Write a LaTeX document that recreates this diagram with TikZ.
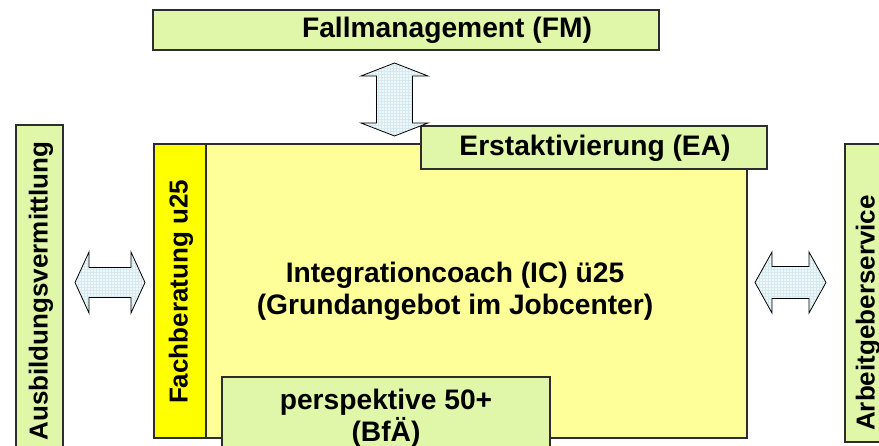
\documentclass[tikz,border=0pt]{standalone}
\usepackage{fontspec}
\setmainfont{Liberation Sans}
\usepackage{xcolor}
\usetikzlibrary{patterns}

\definecolor{boxgreen}{RGB}{224,246,168}
\definecolor{icyellow}{RGB}{255,255,153}
\definecolor{fbyellow}{RGB}{255,255,0}
\definecolor{arrowfill}{RGB}{240,247,249}
\definecolor{arrowgrid}{RGB}{212,233,240}
\definecolor{boxline}{RGB}{45,45,45}

\begin{document}
\begin{tikzpicture}[x=1pt,y=-1pt,
  box/.style={draw=boxline,line width=1.1pt,inner sep=0pt},
  greenbox/.style={box,fill=boxgreen},
  boxtext/.style={font=\bfseries\fontsize{28.2}{32}\selectfont,align=center,inner sep=0pt},
  sidetext/.style={font=\bfseries\fontsize{26}{30}\selectfont,rotate=90,inner sep=0pt},
  blockarrow/.style={draw=black,line width=0.8pt,line join=miter,preaction={fill=arrowfill},
    pattern=grid,pattern color=arrowgrid}]
\useasboundingbox (0,0) rectangle (879,446);
\clip (0,0) rectangle (879,446);

%main box
\node[box,fill=icyellow,minimum width=542pt,minimum height=294pt] (ic) at (476,291) {};
\node[boxtext] (ic-text) at (455,291) {Integrationcoach (IC) ü25\\(Grundangebot im Jobcenter)};
\node[box,fill=fbyellow,minimum width=52pt,minimum height=294pt] (fb) at (180,291) {};
\node[sidetext] (fb-text) at (181,292) {Fachberatung u25};

%green boxes
\node[greenbox,minimum width=346pt,minimum height=43pt] (ea) at (594,147.5) {};
\node[boxtext] (ea-text) at (595,148) {Erstaktivierung (EA)};
\node[greenbox,minimum width=328pt,minimum height=103pt] (p50) at (386,428.5) {};
\node[boxtext] (p50-text) at (386,418) {perspektive 50+\\(BfÄ)};
\node[greenbox,minimum width=506pt,minimum height=40pt] (fm) at (406,30) {};
\node[boxtext] (fm-text) at (447,30) {Fallmanagement (FM)};

%side boxes
\node[greenbox,minimum width=47pt,minimum height=332pt] (av) at (39.5,291) {};
\node[sidetext] (av-text) at (41,291) {Ausbildungsvermittlung};
\node[greenbox,minimum width=48pt,minimum height=298pt] (ag) at (869,293) {};
\node[sidetext] (ag-text) at (868,313) {Arbeitgeberservice};

%block arrows
\coordinate (av-fb) at (75,282.5);
\coordinate (ic-ag) at (755,282.5);
\coordinate (fm-ea) at (394.5,63);
\draw[blockarrow] (av-fb)--++(14,-30.5)--++(0,15.5)--++(42,0)--++(0,-15.5)--++(14,30.5)
  --++(-14,30.5)--++(0,-15.5)--++(-42,0)--++(0,15.5)--cycle;
\draw[blockarrow] (ic-ag)--++(17,-30.5)--++(0,14.5)--++(37,0)--++(0,-14.5)--++(17,30.5)
  --++(-17,30.5)--++(0,-14.5)--++(-37,0)--++(0,14.5)--cycle;
\draw[blockarrow] (fm-ea)--++(33.5,13)--++(-15.5,0)--++(0,47)--++(15.5,0)--++(-33.5,13)
  --++(-33.5,-13)--++(15.5,0)--++(0,-47)--++(-15.5,0)--cycle;
\end{tikzpicture}
\end{document}
